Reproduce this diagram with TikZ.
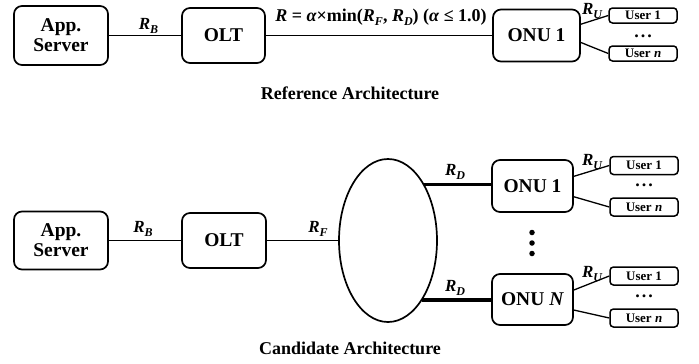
\documentclass[tikz,border=0pt]{standalone}
\usepackage{fontspec}
\setmainfont{Liberation Serif}
\usetikzlibrary{shapes.geometric,calc}
\newcommand{\rsub}[1]{\raisebox{-0.22em}{\fontsize{12}{12}\selectfont #1}}
\tikzset{
  bigbox/.style={draw, line width=1.7pt, rounded corners=8pt, inner sep=0pt, align=center,
    font=\fontsize{19.5}{20}\selectfont\bfseries},
  userbox/.style={draw, line width=1.5pt, rounded corners=3.5pt, inner sep=0pt, minimum width=68pt,
    font=\fontsize{13}{14}\selectfont\bfseries},
  link/.style={line width=1.9pt},
  thicklink/.style={line width=3.2pt},
  ulink/.style={line width=1.3pt},
  rlabel/.style={inner sep=0pt, font=\fontsize{17}{17}\selectfont\bfseries\itshape},
  hdots/.style={inner sep=0pt, font=\fontsize{18}{18}\selectfont\bfseries},
  vdot/.style={circle, fill, inner sep=0pt, minimum size=5.5pt},
  title/.style={inner sep=0pt, font=\fontsize{18}{20}\selectfont\bfseries},
}
\begin{document}
\begin{tikzpicture}[x=1pt,y=-1pt]
\useasboundingbox (0,0) rectangle (699,364);
% ---------- Reference architecture ----------
\node[bigbox, minimum width=94pt, minimum height=59pt] (app) at (61,35.5) {App.\\Server};
\node[bigbox, minimum width=83pt, minimum height=55pt] (olt) at (223.5,35.5) {OLT};
\node[bigbox, minimum width=87pt, minimum height=52pt] (onu) at (536.5,35.5) {ONU 1};
\node[userbox, minimum height=15pt] (u11) at (643,15.5) {User 1};
\node[userbox, minimum height=15pt] (u1n) at (643,53.5) {User \textit{n}};
\node[hdots] (d1) at (643,36) {.\hspace{2pt}.\hspace{2pt}.};
\draw[link] (app.east) -- (olt.west);
\draw[link] (olt.east) -- (onu.west);
\draw[ulink] ($(onu.north east)!0.29!(onu.south east)$) -- (u11.west);
\draw[ulink] ($(onu.north east)!0.63!(onu.south east)$) -- (u1n.west);
\node[rlabel] (rb1) at (148.5,26) {R\rsub{B}};
\node[rlabel] (ru1) at (592,11) {R\rsub{U}};
\node[inner sep=0pt, font=\fontsize{18}{20}\selectfont\bfseries] (form) at (381,17)
  {\textit{R} = \textit{α}×min(\textit{R}\rsub{\textit{F}}, \textit{R}\rsub{\textit{D}}) (\textit{α} ≤ 1.0)};
\node[title] (t1) at (350,93) {Reference Architecture};
% ---------- Candidate architecture ----------
\node[bigbox, minimum width=94pt, minimum height=58pt] (app2) at (61,240.5) {App.\\Server};
\node[bigbox, minimum width=84pt, minimum height=55pt] (olt2) at (224,240.5) {OLT};
\node[draw, ellipse, line width=1.7pt, inner sep=0pt, minimum width=98pt, minimum height=163pt] (ell) at (388,240.5) {};
\node[bigbox, minimum width=81pt, minimum height=52pt] (onuA) at (532.5,186) {ONU 1};
\node[bigbox, minimum width=81pt, minimum height=51pt] (onuB) at (532.5,299.5) {ONU \textit{N}};
\node[userbox, minimum height=18pt] (uA1) at (644,165.5) {User 1};
\node[userbox, minimum height=18pt] (uAn) at (644,207) {User \textit{n}};
\node[userbox, minimum height=18pt] (uB1) at (644,276) {User 1};
\node[userbox, minimum height=18pt] (uBn) at (644,318) {User \textit{n}};
\node[hdots] (d2) at (644,185) {.\hspace{2pt}.\hspace{2pt}.};
\node[hdots] (d3) at (644,296) {.\hspace{2pt}.\hspace{2pt}.};
\node[vdot] (v1) at (532,232.5) {};
\node[vdot] (v2) at (532,243) {};
\node[vdot] (v3) at (532,253.5) {};
\draw[link] (app2.east) -- (olt2.west);
\draw[link] (olt2.east) -- (ell.west);
\draw[thicklink] (ell.57) -- (ell.57 -| onuA.west);
\draw[thicklink] (ell.-60) -- (ell.-60 -| onuB.west);
\draw[ulink] ($(onuA.north east)!0.32!(onuA.south east)$) -- (uA1.west);
\draw[ulink] ($(onuA.north east)!0.7!(onuA.south east)$) -- (uAn.west);
\draw[ulink] ($(onuB.north east)!0.32!(onuB.south east)$) -- (uB1.west);
\draw[ulink] ($(onuB.north east)!0.7!(onuB.south east)$) -- (uBn.west);
\node[rlabel] (rb2) at (143,229) {R\rsub{B}};
\node[rlabel] (rf) at (318,229) {R\rsub{F}};
\node[rlabel] (rd1) at (455,172) {R\rsub{D}};
\node[rlabel] (rd2) at (455,288) {R\rsub{D}};
\node[rlabel] (ru2) at (592,162) {R\rsub{U}};
\node[rlabel] (ru3) at (592,274) {R\rsub{U}};
\node[title] (t2) at (350,348) {Candidate Architecture};
\end{tikzpicture}
\end{document}
